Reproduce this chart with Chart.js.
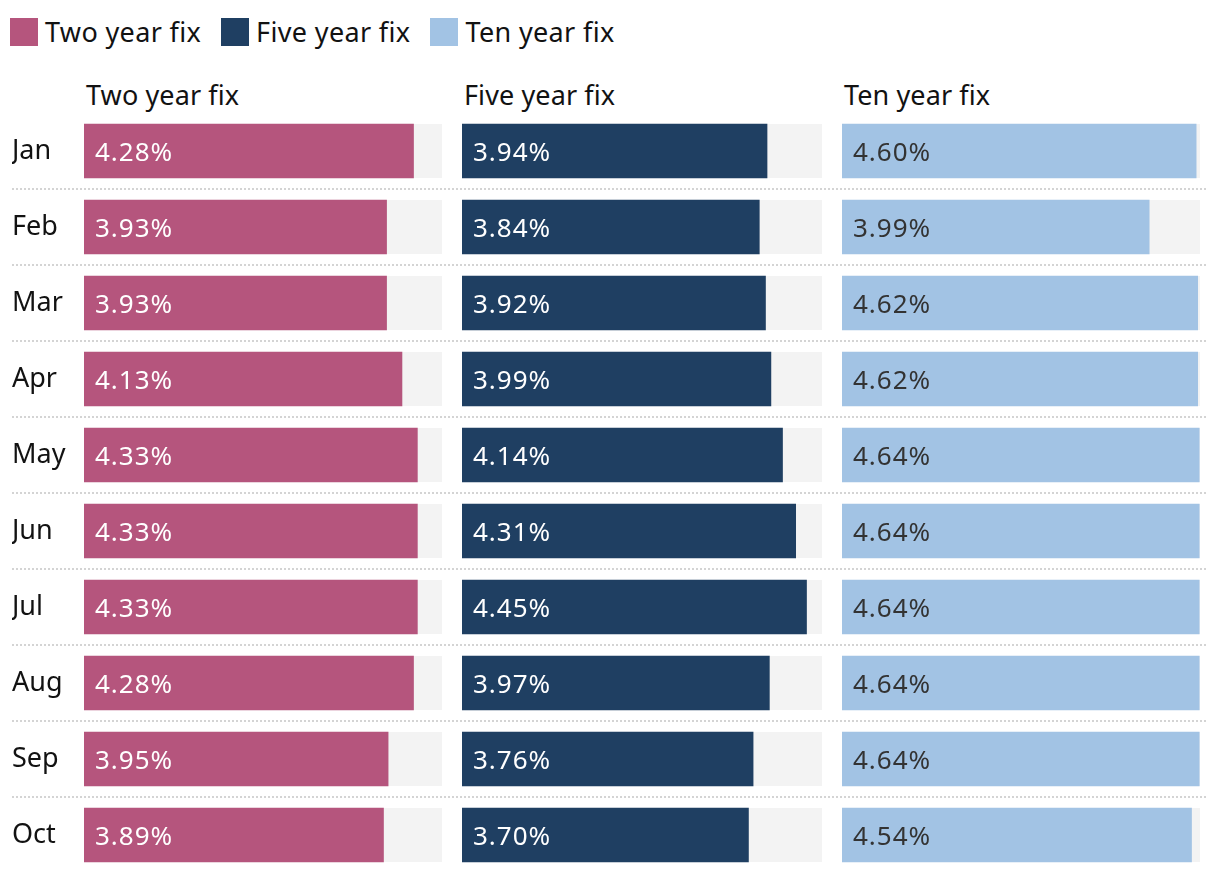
<!DOCTYPE html>
<html>
<head>
<meta charset="utf-8">
<script src="https://cdn.jsdelivr.net/npm/chart.js@4.4.1/dist/chart.umd.min.js"></script>
<style>
  body { margin: 0; background: #fff; width: 1220px; height: 872px; overflow: hidden; position: relative;
         font-family: "Noto Sans", sans-serif; color: #121212; }
  .legend { position: absolute; left: 10px; top: 18px; display: flex; font-size: 27px; line-height: 28px; letter-spacing: 0.35px; }
  .legend .item { display: flex; align-items: center; margin-right: 20px; }
  .legend .sw { width: 28px; height: 28px; margin-right: 7px; }
  .title { position: absolute; top: 81px; font-size: 27px; line-height: 27px; letter-spacing: 0.1px; }
  .panel { position: absolute; top: 113px; height: 760px; }
</style>
</head>
<body>
<div class="legend" id="legend"></div>
<div class="title" style="left:86px">Two year fix</div>
<div class="title" style="left:464px">Five year fix</div>
<div class="title" style="left:844px">Ten year fix</div>
<div class="panel" style="left:12px;width:440px"><canvas id="twoChart"></canvas></div>
<div class="panel" style="left:452px;width:380px"><canvas id="fiveChart"></canvas></div>
<div class="panel" style="left:832px;width:376px"><canvas id="tenChart"></canvas></div>

<script>
// Monthly average fixed mortgage rates (%)
const months = ["Jan", "Feb", "Mar", "Apr", "May", "Jun", "Jul", "Aug", "Sep", "Oct"];
const twoYear = [4.28, 3.93, 3.93, 4.13, 4.33, 4.33, 4.33, 4.28, 3.95, 3.89];
const fiveYear = [3.94, 3.84, 3.92, 3.99, 4.14, 4.31, 4.45, 3.97, 3.76, 3.70];
const tenYear = [4.60, 3.99, 4.62, 4.62, 4.64, 4.64, 4.64, 4.64, 4.64, 4.54];
const seriesNames = ["Two year fix", "Five year fix", "Ten year fix"];

const AXIS_MAX = 4.65;
const FONT = '"Noto Sans", sans-serif';
const colors = ["#b5557d", "#1f3f62", "#a2c3e4"];
const labelColors = ["#ffffff", "#ffffff", "#333333"];

// HTML legend shared by the three panels
const legendEl = document.getElementById("legend");
seriesNames.forEach((name, i) => {
  const item = document.createElement("div");
  item.className = "item";
  item.innerHTML = `<div class="sw" style="background:${colors[i]}"></div><span>${name}</span>`;
  legendEl.appendChild(item);
});

/**
 * Grey track behind each bar, dotted row separators, value labels
 */
const rowDecor = {
  id: "rowDecor",
  beforeDatasetsDraw(chart) {
    const { ctx, scales: { x } } = chart;
    const bars = chart.getDatasetMeta(0).data;
    const x0 = x.getPixelForValue(0);
    const x1 = x.getPixelForValue(AXIS_MAX);
    ctx.save();
    ctx.fillStyle = "#f3f3f3";
    bars.forEach(el => {
      ctx.fillRect(x0, el.y - el.height / 2, x1 - x0, el.height);
    });
    // dotted separators between rows
    ctx.strokeStyle = "#d4d4d4";
    ctx.lineWidth = 2;
    ctx.setLineDash([2, 2]);
    for (let i = 1; i < bars.length; i++) {
      const y = Math.round((bars[i - 1].y + bars[i].y) / 2);
      ctx.beginPath();
      ctx.moveTo(0, y);
      ctx.lineTo(chart.width, y);
      ctx.stroke();
    }
    ctx.restore();
  },
  afterDatasetsDraw(chart, args, opts) {
    const { ctx } = chart;
    const ds = chart.data.datasets[0];
    const bars = chart.getDatasetMeta(0).data;
    ctx.save();
    ctx.font = `26px ${FONT}`;
    ctx.letterSpacing = "1px";
    ctx.fillStyle = opts.color;
    ctx.textAlign = "left";
    ctx.textBaseline = "alphabetic";
    bars.forEach((el, i) => {
      ctx.fillText(ds.data[i].toFixed(2) + "%", el.base + 11, el.y + 9.5);
    });
    ctx.restore();
  }
};

function makePanel(canvasId, values, idx, showMonths, padding) {
  const ctx = document.getElementById(canvasId).getContext("2d");
  return new Chart(ctx, {
    type: "bar",
    data: {
      labels: months,
      datasets: [{
        label: seriesNames[idx],
        data: values,
        backgroundColor: colors[idx],
        borderWidth: 0,
        barThickness: 54
      }]
    },
    plugins: [rowDecor],
    options: {
      indexAxis: "y",
      responsive: true,
      maintainAspectRatio: false,
      animation: false,
      events: [],
      layout: { padding: padding },
      plugins: {
        legend: { display: false },
        tooltip: { enabled: false },
        rowDecor: { color: labelColors[idx] }
      },
      scales: {
        x: { display: false, min: 0, max: AXIS_MAX },
        y: {
          display: showMonths,
          grid: { display: false },
          border: { display: false },
          ticks: {
            color: "#121212",
            font: { family: FONT, size: 27 },
            crossAlign: "far",
            padding: 0
          },
          afterFit(scale) {
            if (!showMonths) return;
            scale.width = 72;
            scale.paddingTop = 0;
            scale.paddingBottom = 0;
          }
        }
      }
    }
  });
}

makePanel("twoChart", twoYear, 0, true, { left: 0, right: 10, top: 0, bottom: 0 });
makePanel("fiveChart", fiveYear, 1, false, { left: 10, right: 10, top: 0, bottom: 0 });
makePanel("tenChart", tenYear, 2, false, { left: 10, right: 8, top: 0, bottom: 0 });
</script>
</body>
</html>
